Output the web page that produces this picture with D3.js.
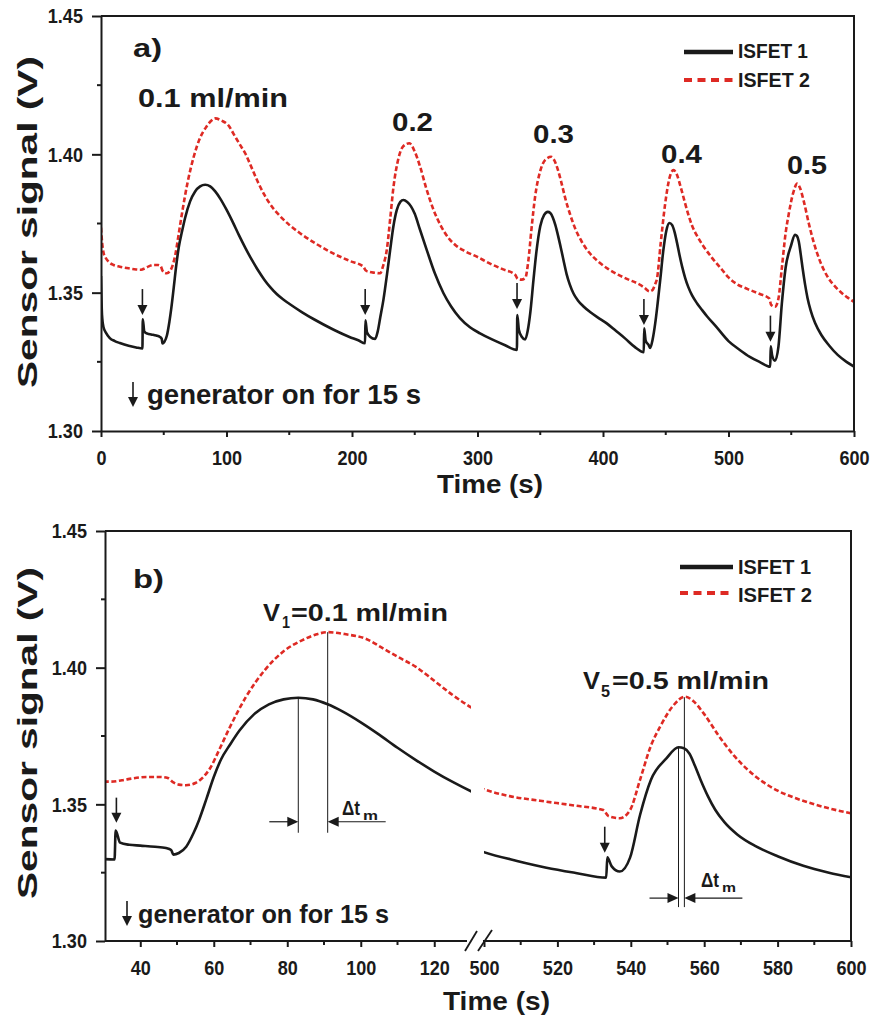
<!DOCTYPE html>
<html><head><meta charset="utf-8">
<script src="https://cdn.jsdelivr.net/npm/d3@7"></script>
<style>
body{margin:0;background:#fff}
text{font-family:"Liberation Sans",Arial,Helvetica,sans-serif;font-weight:bold;fill:#1a1a1a}
</style>
</head><body>
<svg id="chart" width="873" height="1020"></svg>
<script>
// ---------- data: [time (s), sensor signal (V)] ----------
const isfet1Data = [[0,1.356],[0.8,1.342],[2,1.3375],[4,1.3355],[7,1.3336],[11,1.3325],[15,1.3318],[22,1.3308],[28,1.3302],[33,1.3298],[33.3,1.3404],[34.5,1.336],[37,1.3352],[40,1.3349],[44,1.3345],[47,1.334],[48.4,1.3333],[49,1.3316],[50.5,1.3322],[52.5,1.3345],[54.5,1.3395],[56,1.3443],[58,1.352],[60,1.36],[62,1.3665],[64.5,1.372],[67,1.377],[71,1.383],[75,1.3866],[79,1.3884],[83,1.389],[87,1.3884],[91,1.3866],[95,1.384],[100,1.38],[105,1.3755],[110,1.3707],[115,1.3662],[120,1.362],[125,1.3582],[130,1.3548],[135,1.3519],[140,1.3495],[145,1.3476],[150,1.346],[160,1.343],[170,1.3403],[185,1.3367],[198,1.334],[205,1.3328],[210.4,1.3317],[210.7,1.34],[212,1.3356],[214.4,1.3341],[218.4,1.3333],[220.5,1.336],[222.5,1.341],[225,1.3473],[228,1.357],[230.4,1.3654],[233,1.374],[235.7,1.3799],[238.5,1.3828],[241,1.3835],[244,1.3828],[247,1.3812],[250,1.3785],[254,1.373],[259.6,1.3654],[266,1.357],[272.9,1.3498],[279,1.345],[286,1.3408],[294,1.3375],[302,1.3353],[312,1.333],[322,1.331],[331.4,1.3293],[331.7,1.3419],[333,1.3365],[335.4,1.334],[338,1.3331],[340,1.3362],[342,1.3425],[344.6,1.3546],[347,1.365],[350,1.374],[353,1.378],[356,1.3792],[358,1.3788],[360,1.3772],[362,1.3745],[364.5,1.37],[367,1.365],[369,1.3607],[371,1.3567],[373.5,1.353],[376.5,1.3497],[380,1.3472],[384.5,1.345],[390,1.3429],[396,1.341],[403,1.3389],[410,1.3363],[418,1.3333],[425,1.3305],[432.5,1.3285],[432.8,1.3371],[434,1.3327],[436.3,1.3311],[437.6,1.33],[439.5,1.333],[441.6,1.3389],[443.5,1.346],[445.6,1.3546],[448,1.365],[450.5,1.3725],[453,1.3752],[455,1.3745],[457,1.372],[459,1.368],[461,1.3635],[463,1.3595],[465.5,1.3553],[468,1.352],[471,1.349],[475,1.3461],[479,1.3437],[483,1.3414],[490,1.3378],[500,1.3325],[509,1.3293],[517,1.3268],[525,1.3249],[533.3,1.3232],[533.6,1.3306],[534.8,1.3273],[537,1.3254],[539.8,1.3305],[542.5,1.346],[545.5,1.359],[549.7,1.3668],[553,1.3709],[554.5,1.3705],[556,1.3685],[557.5,1.364],[559,1.359],[561,1.353],[563,1.348],[565.5,1.3435],[569,1.339],[574,1.3347],[580,1.331],[587,1.3275],[594,1.325],[600,1.3233]];
const isfet2Data = [[0,1.3735],[0.8,1.3685],[2,1.3645],[3.5,1.3628],[6,1.3612],[10,1.36],[15,1.3594],[22,1.3588],[28,1.3584],[32,1.3583],[35,1.3588],[38,1.3595],[42,1.36],[45.5,1.36],[47.5,1.3596],[49,1.358],[50.5,1.3572],[52.4,1.357],[55,1.3578],[57,1.3598],[59,1.3632],[61.5,1.37],[64.3,1.378],[68.8,1.3894],[74,1.3993],[79,1.406],[84,1.41],[88,1.4122],[91,1.413],[96,1.4122],[101.5,1.4105],[105.5,1.4075],[110,1.404],[115,1.4003],[120,1.3952],[125,1.39],[130,1.3855],[136,1.3812],[142,1.378],[150,1.3745],[158.6,1.3715],[172,1.3675],[185,1.3642],[198,1.3615],[209,1.3594],[211,1.358],[214,1.3575],[218,1.3572],[222.4,1.357],[225,1.36],[227.7,1.3654],[230.5,1.377],[233,1.388],[237,1.3985],[241,1.403],[245.8,1.404],[250,1.401],[254.3,1.3955],[259,1.388],[265,1.3799],[271,1.374],[277,1.3697],[283,1.367],[290,1.365],[299.5,1.363],[310,1.3605],[320,1.3585],[330,1.3565],[332,1.355],[335,1.3547],[338,1.3552],[340.5,1.3615],[343,1.373],[346,1.385],[350,1.394],[354,1.398],[358.7,1.3991],[361,1.398],[364,1.3945],[367,1.3895],[370,1.384],[374,1.378],[378,1.373],[383,1.3685],[389,1.3645],[396,1.3613],[404,1.3586],[412,1.3565],[419,1.355],[430,1.3527],[433,1.3518],[437,1.3505],[439.5,1.351],[441.5,1.353],[443,1.355],[446,1.368],[449.5,1.382],[453,1.3915],[456.2,1.3943],[459,1.3925],[462,1.388],[465,1.383],[468,1.3782],[471,1.3742],[475,1.3705],[480,1.3668],[487,1.3625],[495,1.3582],[500,1.3555],[507,1.353],[515.3,1.3513],[525,1.3495],[532.5,1.3479],[534,1.3456],[537,1.3449],[539.8,1.3479],[542.5,1.3589],[545.5,1.3715],[548,1.3784],[551.5,1.386],[554.8,1.3894],[557,1.3878],[560,1.383],[564,1.375],[568,1.368],[572,1.3625],[576,1.3582],[580,1.355],[585,1.3522],[590,1.35],[595,1.3482],[600,1.3467]];

const seriesNames = ["ISFET 1","ISFET 2"];
const yTicks = [1.30,1.35,1.40,1.45];
const yMinor = [1.325,1.375,1.425];
const xTicksA = [0,100,200,300,400,500,600];
const xMinorA = [50,150,250,350,450,550];
const xTicksB1 = [40,60,80,100,120];
const xMinorB1 = [50,70,90,110];
const xTicksB2 = [500,520,540,560,580,600];
const xMinorB2 = [510,530,550,570,590];
const rateLabelsA = ["0.1 ml/min","0.2","0.3","0.4","0.5"];
const genTimesA = [33,210.5,331.5,432.6,533.4];
const arrowTipA = [1.3419,1.3419,1.3441,1.3383,1.3323];
const genTimesB = [33.5,532.9];
const arrowTipB = [1.3433,1.3323];
const peakTimesB1 = [83,91];     // ISFET1 / ISFET2 maxima, V1
const peakTimesB2 = [553,554.6]; // V5

const BLACK = "#1a1a1a", RED = "#de2a24";
const d1 = isfet1Data.map(([t,v])=>({t,v}));
const d2 = isfet2Data.map(([t,v])=>({t,v}));

const svg = d3.select("#chart");

// ---------- helpers ----------
function styleAxis(g){
  g.selectAll("path.domain").attr("stroke",BLACK).attr("stroke-width",2);
  g.selectAll(".tick line").attr("stroke",BLACK).attr("stroke-width",2);
  g.selectAll(".tick text").attr("font-size",21).attr("font-weight","bold")
    .attr("fill",BLACK).attr("font-family",'"Liberation Sans",Arial,sans-serif');
}
function xAxis(g, scale, ticks, minor, y){
  const ax = g.append("g").attr("transform",`translate(0,${y})`)
    .call(d3.axisBottom(scale).tickValues(ticks).tickSize(6).tickSizeOuter(0).tickFormat(d3.format("d")));
  styleAxis(ax);
  ax.selectAll(".tick text").attr("y",19).attr("transform","scale(0.86,1)");
  g.append("g").attr("transform",`translate(0,${y})`).selectAll("line").data(minor).join("line")
    .attr("x1",d=>scale(d)).attr("x2",d=>scale(d)).attr("y1",0).attr("y2",4)
    .attr("stroke",BLACK).attr("stroke-width",2);
  return ax;
}
function yAxis(g, scale, x){
  const ax = g.append("g").attr("transform",`translate(${x},0)`)
    .call(d3.axisLeft(scale).tickValues(yTicks).tickSize(9).tickSizeOuter(0).tickFormat(d3.format(".2f")));
  styleAxis(ax);
  ax.selectAll(".tick text").attr("x",-21).attr("transform","scale(0.86,1)");
  g.append("g").attr("transform",`translate(${x},0)`).selectAll("line").data(yMinor).join("line")
    .attr("y1",d=>scale(d)).attr("y2",d=>scale(d)).attr("x1",0).attr("x2",-4)
    .attr("stroke",BLACK).attr("stroke-width",2);
}
function txt(g, s, x, y, size, len, opts={}){
  const t = g.append("text").attr("x",x).attr("y",y).attr("font-size",size).text(s);
  if(len) t.attr("textLength",len).attr("lengthAdjust","spacingAndGlyphs");
  if(opts.fill) t.attr("fill",opts.fill);
  if(opts.weight) t.attr("font-weight",opts.weight);
  if(opts.anchor) t.attr("text-anchor",opts.anchor);
  if(opts.transform) t.attr("transform",opts.transform);
  return t;
}
function downArrow(g, x, yTip, len){
  g.append("line").attr("x1",x).attr("x2",x).attr("y1",yTip-len).attr("y2",yTip-8)
    .attr("stroke",BLACK).attr("stroke-width",1.6);
  g.append("path").attr("d",`M${x-5},${yTip-10}L${x+5},${yTip-10}L${x},${yTip}Z`).attr("fill",BLACK);
}
function hArrow(g, xFrom, xTip, y){
  const dir = xTip > xFrom ? 1 : -1;
  g.append("line").attr("x1",xFrom).attr("x2",xTip - dir*8).attr("y1",y).attr("y2",y)
    .attr("stroke",BLACK).attr("stroke-width",1.2);
  g.append("path").attr("d",`M${xTip},${y}L${xTip-dir*11},${y-5}L${xTip-dir*11},${y+5}Z`).attr("fill",BLACK);
}
function legend(g, x0, x1, y1, y2, tx, b1, b2, len1, len2){
  g.append("line").attr("x1",x0).attr("x2",x1).attr("y1",y1).attr("y2",y1)
    .attr("stroke",BLACK).attr("stroke-width",4.5);
  g.append("line").attr("x1",x0).attr("x2",x1).attr("y1",y2).attr("y2",y2)
    .attr("stroke",RED).attr("stroke-width",4).attr("stroke-dasharray","8,5.5");
  txt(g, seriesNames[0], tx, b1, 21, len1);
  txt(g, seriesNames[1], tx, b2, 21, len2, {fill:RED});
}
function deltaT(g, x, y, mLen){
  txt(g, "\u0394t", x, y, 21, 18, {weight:"normal"});
  txt(g, "m", x + 21, y + 5, 13, mLen, {weight:"normal"});
}

// ---------- panel a ----------
const xA = d3.scaleLinear().domain([0,600]).range([101,854]);
const yA = d3.scaleLinear().domain([1.30,1.45]).range([431,16]);
const gA = svg.append("g");
gA.append("defs").append("clipPath").attr("id","clipA").append("rect")
  .attr("x",xA(0)).attr("y",yA(1.45)).attr("width",xA(600)-xA(0)).attr("height",yA(1.30)-yA(1.45));
const lineA = d3.line().x(d=>xA(d.t)).y(d=>yA(d.v)).curve(d3.curveMonotoneX);
const plotA = gA.append("g").attr("clip-path","url(#clipA)");
plotA.append("path").datum(d2).attr("d",lineA).attr("fill","none").attr("stroke",RED)
  .attr("stroke-width",2.6).attr("stroke-dasharray","5,2.6");
plotA.append("path").datum(d1).attr("d",lineA).attr("fill","none").attr("stroke",BLACK)
  .attr("stroke-width",2.6).attr("stroke-linejoin","round");
gA.append("path").attr("d",`M${xA(0)},${yA(1.45)}H${xA(600)}V${yA(1.30)}`)
  .attr("fill","none").attr("stroke",BLACK).attr("stroke-width",2);
xAxis(gA, xA, xTicksA, xMinorA, yA(1.30));
yAxis(gA, yA, xA(0));
genTimesA.forEach((t,i)=>downArrow(gA, xA(t), yA(arrowTipA[i]), 26));
txt(gA, "a)", 133, 57, 26, 29);
txt(gA, rateLabelsA[0], 138, 107, 25, 150);
txt(gA, rateLabelsA[1], 392, 131, 25, 41);
txt(gA, rateLabelsA[2], 533, 143, 25, 41);
txt(gA, rateLabelsA[3], 661, 163, 25, 41);
txt(gA, rateLabelsA[4], 787, 174, 25, 40);
downArrow(gA, 133, 407, 25);
txt(gA, "generator on for 15 s", 147, 404, 27, 274);
legend(gA, 684, 733, 52, 80, 738, 58, 87, 70, 72);
txt(gA, "Time (s)", 437, 493, 25, 106);
txt(gA, "Sensor signal (V)", 0, 0, 27, 332, {anchor:"middle", transform:"translate(37,222) rotate(-90)"});

// ---------- panel b ----------
const yB = d3.scaleLinear().domain([1.30,1.45]).range([941,531]);
const xB1 = d3.scaleLinear().domain([30.4,130]).range([105,471]);
const xB2 = d3.scaleLinear().domain([500,600]).range([484,851]);
const gB = svg.append("g");
const defsB = gB.append("defs");
defsB.append("clipPath").attr("id","clipB1").append("rect")
  .attr("x",xB1(30.4)).attr("y",yB(1.45)).attr("width",xB1(130)-xB1(30.4)).attr("height",yB(1.30)-yB(1.45));
defsB.append("clipPath").attr("id","clipB2").append("rect")
  .attr("x",xB2(500)).attr("y",yB(1.45)).attr("width",xB2(600)-xB2(500)).attr("height",yB(1.30)-yB(1.45));
[[xB1,"clipB1",[30,131]],[xB2,"clipB2",[499,601]]].forEach(([xs,clip,rng])=>{
  const ln = d3.line().x(d=>xs(d.t)).y(d=>yB(d.v)).curve(d3.curveMonotoneX);
  const p = gB.append("g").attr("clip-path",`url(#${clip})`);
  const sub = arr => {
    const i0 = Math.max(0, arr.findIndex(d=>d.t>=rng[0])-1);
    let i1 = arr.findIndex(d=>d.t>rng[1]); if(i1<0) i1 = arr.length-1;
    return arr.slice(i0, i1+1);
  };
  p.append("path").datum(sub(d2)).attr("d",ln).attr("fill","none").attr("stroke",RED)
    .attr("stroke-width",2.6).attr("stroke-dasharray","5,2.6");
  p.append("path").datum(sub(d1)).attr("d",ln).attr("fill","none").attr("stroke",BLACK)
    .attr("stroke-width",2.6).attr("stroke-linejoin","round");
});
gB.append("path").attr("d",`M${xB1(30.4)},${yB(1.45)}H${xB2(600)}V${yB(1.30)}`)
  .attr("fill","none").attr("stroke",BLACK).attr("stroke-width",2);
const axB1 = xAxis(gB, xB1, xTicksB1, xMinorB1, yB(1.30));
const axB2 = xAxis(gB, xB2, xTicksB2, xMinorB2, yB(1.30));
gB.append("line").attr("x1",xB1(30.4)).attr("x2",467).attr("y1",yB(1.30)).attr("y2",yB(1.30))
  .attr("stroke",BLACK).attr("stroke-width",2);
gB.append("line").attr("x1",483).attr("x2",xB2(600)).attr("y1",yB(1.30)).attr("y2",yB(1.30))
  .attr("stroke",BLACK).attr("stroke-width",2);
axB1.select("path.domain").remove();
axB2.select("path.domain").remove();
[[465,951,477,931],[478,951,492,930]].forEach(([x1,y1,x2,y2])=>{
  gB.append("line").attr("x1",x1).attr("y1",y1).attr("x2",x2).attr("y2",y2)
    .attr("stroke",BLACK).attr("stroke-width",1.8);
});
yAxis(gB, yB, xB1(30.4));
downArrow(gB, xB1(genTimesB[0]), yB(arrowTipB[0]), 25);
downArrow(gB, xB2(genTimesB[1]), yB(arrowTipB[1]), 26);
const interp = (arr,t)=>{ const i = arr.findIndex(d=>d.t>=t); if(i<=0) return arr[0].v;
  const a=arr[i-1], b=arr[i]; return a.v + (b.v-a.v)*(t-a.t)/(b.t-a.t); };
const dropB1 = 1.3396, dropB2 = 1.3124;
[[xB1,peakTimesB1,dropB1],[xB2,peakTimesB2,dropB2]].forEach(([xs,pk,drop])=>{
  gB.append("line").attr("x1",xs(pk[0])).attr("x2",xs(pk[0])).attr("y1",yB(interp(d1,pk[0]))).attr("y2",yB(drop))
    .attr("stroke",BLACK).attr("stroke-width",1);
  gB.append("line").attr("x1",xs(pk[1])).attr("x2",xs(pk[1])).attr("y1",yB(interp(d2,pk[1]))).attr("y2",yB(drop))
    .attr("stroke",BLACK).attr("stroke-width",1);
});
const arrY1 = yB(dropB1)-11, arrY2 = yB(dropB2)-9;
hArrow(gB, xB1(peakTimesB1[0])-29, xB1(peakTimesB1[0]), arrY1);
hArrow(gB, xB1(peakTimesB1[1])+58, xB1(peakTimesB1[1]), arrY1);
hArrow(gB, xB2(peakTimesB2[0])-29, xB2(peakTimesB2[0]), arrY2);
hArrow(gB, xB2(peakTimesB2[1])+58, xB2(peakTimesB2[1]), arrY2);
deltaT(gB, 342, 815, 15);
deltaT(gB, 701, 887, 14);

txt(gB, "b)", 133, 588, 26, 31);
txt(gB, "V", 263, 621, 24, 17);
txt(gB, "1", 282, 628, 17, 8);
txt(gB, "=0.1 ml/min", 291, 621, 24, 157);
txt(gB, "V", 583, 689, 24, 17);
txt(gB, "5", 601, 697, 17, 9);
txt(gB, "=0.5 ml/min", 612, 689, 24, 157);
downArrow(gB, 127, 926, 25);
txt(gB, "generator on for 15 s", 138, 923, 25, 251);
legend(gB, 680, 733, 567, 593, 738, 574, 602, 73, 74);
txt(gB, "Time (s)", 443, 1010, 25, 107);
txt(gB, "Sensor signal (V)", 0, 0, 27, 332, {anchor:"middle", transform:"translate(37,733) rotate(-90)"});
</script>
</body></html>
